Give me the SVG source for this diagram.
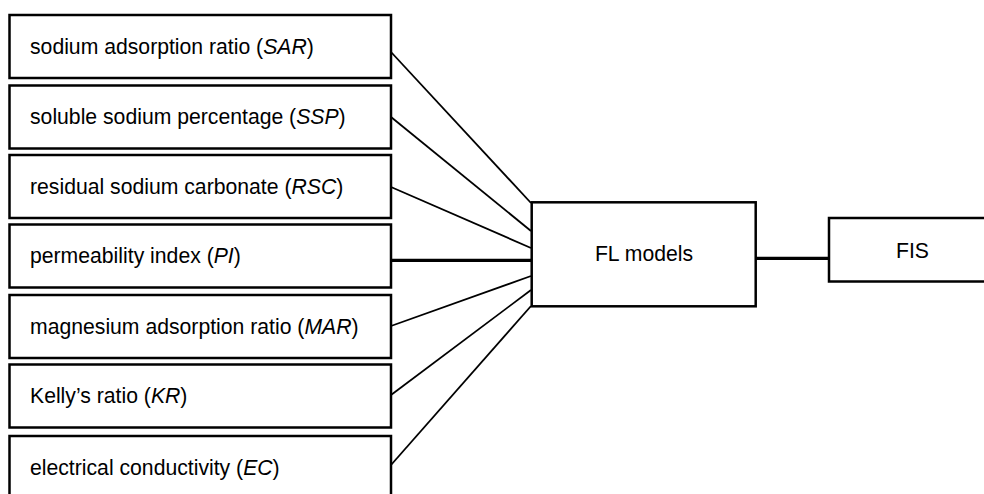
<svg xmlns="http://www.w3.org/2000/svg" width="984" height="494" viewBox="0 0 984 494">
  <style>
    .box { fill: #ffffff; stroke: #000000; stroke-width: 2.5; }
    .lbl { font-family: "Liberation Sans", Arial, sans-serif; font-size: 21.2px; fill: #000000; }
    .ctr { text-anchor: middle; }
    .edge { stroke: #000000; stroke-width: 1.8; fill: none; }
    .edge.bold { stroke-width: 3.2; }
  </style>
  <rect width="984" height="494" fill="#ffffff"/>

  <!-- connectors: indices into the fuzzy-logic model, and model to FIS -->
  <g id="connectors">
    <line class="edge" x1="391" y1="52" x2="531" y2="203"/>
    <line class="edge" x1="391" y1="117" x2="531" y2="231"/>
    <line class="edge" x1="391" y1="187" x2="531" y2="248"/>
    <line class="edge bold" x1="391" y1="260.3" x2="531" y2="260.3"/>
    <line class="edge" x1="391" y1="326" x2="531" y2="276"/>
    <line class="edge" x1="391" y1="395" x2="531" y2="290"/>
    <line class="edge" x1="391" y1="465" x2="531" y2="306"/>
    <line class="edge bold" x1="756" y1="258.3" x2="829" y2="258.3"/>
  </g>

  <g id="sar">
    <rect class="box" x="9.5" y="15" width="381.5" height="63"/>
    <text class="lbl" x="30" y="54">sodium adsorption ratio (<tspan font-style="italic">SAR</tspan>)</text>
  </g>
  <g id="ssp">
    <rect class="box" x="9.5" y="85.5" width="381.5" height="63"/>
    <text class="lbl" x="30" y="124">soluble sodium percentage (<tspan font-style="italic">SSP</tspan>)</text>
  </g>
  <g id="rsc">
    <rect class="box" x="9.5" y="155" width="381.5" height="63"/>
    <text class="lbl" x="30" y="193.5">residual sodium carbonate (<tspan font-style="italic">RSC</tspan>)</text>
  </g>
  <g id="pi">
    <rect class="box" x="9.5" y="224.5" width="381.5" height="63"/>
    <text class="lbl" x="30" y="263">permeability index (<tspan font-style="italic">PI</tspan>)</text>
  </g>
  <g id="mar">
    <rect class="box" x="9.5" y="295" width="381.5" height="63"/>
    <text class="lbl" x="30" y="333.5">magnesium adsorption ratio (<tspan font-style="italic">MAR</tspan>)</text>
  </g>
  <g id="kr">
    <rect class="box" x="9.5" y="364.5" width="381.5" height="63"/>
    <text class="lbl" x="30" y="403">Kelly’s ratio (<tspan font-style="italic">KR</tspan>)</text>
  </g>
  <g id="ec">
    <rect class="box" x="9.5" y="436" width="381.5" height="63"/>
    <text class="lbl" x="30" y="474.5">electrical conductivity (<tspan font-style="italic">EC</tspan>)</text>
  </g>

  <g id="fl-models">
    <rect class="box" x="531.7" y="202.3" width="224" height="104"/>
    <text class="lbl ctr" x="644" y="261">FL models</text>
  </g>
  <g id="fis">
    <rect class="box" x="829" y="218" width="170" height="63.5"/>
    <text class="lbl ctr" x="912.5" y="258">FIS</text>
  </g>
</svg>
